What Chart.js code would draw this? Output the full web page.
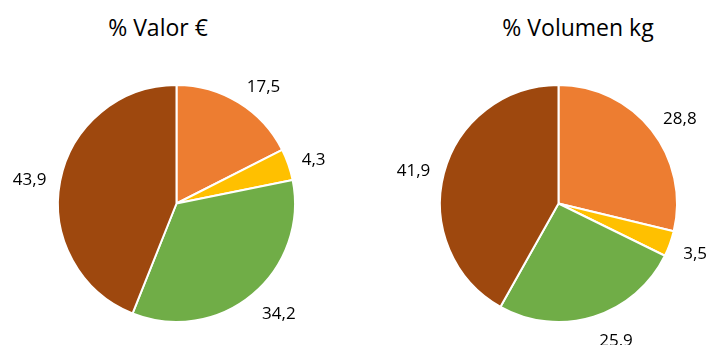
<!DOCTYPE html>
<html>
<head>
<meta charset="utf-8">
<script src="https://cdn.jsdelivr.net/npm/chart.js@4"></script>
<style>
  body { margin: 0; background: #fff; }
  #wrap { position: relative; width: 707px; height: 345px; }
  .titulo {
    position: absolute; top: 11px; width: 240px; margin: 0;
    font: 23px "Open Sans", sans-serif; line-height: normal;
    text-align: center; color: #000; font-weight: normal;
  }
  canvas { position: absolute; top: 0; }
</style>
</head>
<body>
<div id="wrap">
  <h2 class="titulo" style="left: 38px;">% Valor €</h2>
  <h2 class="titulo" style="left: 458px;">% Volumen kg</h2>
  <canvas id="graficoValor" width="353" height="345" style="left: 0;"></canvas>
  <canvas id="graficoVolumen" width="354" height="345" style="left: 353px;"></canvas>
</div>
<script>
// categorias (sin leyenda) y porcentajes de cada grafico
var categorias = ['Categoría 1', 'Categoría 2', 'Categoría 3', 'Categoría 4'];
var valorEuro = [17.5, 4.3, 34.2, 43.9];
var volumenKg = [28.8, 3.5, 25.9, 41.9];
var colores = ['#ED7D31', '#FFC000', '#70AD47', '#9E480E'];

// Etiquetas de valor fuera de cada porcion
var etiquetasFuera = {
    id: 'etiquetasFuera',
    afterDatasetsDraw: function (chart) {
        var ctx = chart.ctx;
        var meta = chart.getDatasetMeta(0);
        var datos = chart.data.datasets[0].data;
        ctx.save();
        ctx.font = '17px "Open Sans", sans-serif';
        ctx.fillStyle = '#000';
        ctx.textBaseline = 'middle';
        meta.data.forEach(function (arco, i) {
            var p = arco.getProps(['x', 'y', 'startAngle', 'endAngle', 'outerRadius'], true);
            var medio = (p.startAngle + p.endAngle) / 2;
            var dx = Math.cos(medio), dy = Math.sin(medio);
            var r = p.outerRadius + 12;
            var x = p.x + dx * r;
            var y = p.y + dy * r + dy * 10 + 3;
            ctx.textAlign = dx >= 0 ? 'left' : 'right';
            x += dx >= 0 ? 2 : -2;
            ctx.fillText(datos[i].toFixed(1).replace('.', ','), x, y);
        });
        ctx.restore();
    }
};

function graficarTarta(idCanvas, valores, relleno) {
    var ctx = document.getElementById(idCanvas).getContext('2d');
    return new Chart(ctx, {
        type: 'pie',
        data: {
            labels: categorias,
            datasets: [{
                data: valores,
                backgroundColor: colores,
                borderColor: '#ffffff',
                borderWidth: 2
            }]
        },
        options: {
            responsive: false,
            animation: false,
            layout: { padding: relleno },
            plugins: {
                legend: { display: false },
                tooltip: { enabled: false }
            }
        },
        plugins: [etiquetasFuera]
    });
}

graficarTarta('graficoValor', valorEuro, { top: 84, bottom: 22, left: 57, right: 57 });
graficarTarta('graficoVolumen', volumenKg, { top: 84, bottom: 22, left: 86, right: 29 });
</script>
</body>
</html>
